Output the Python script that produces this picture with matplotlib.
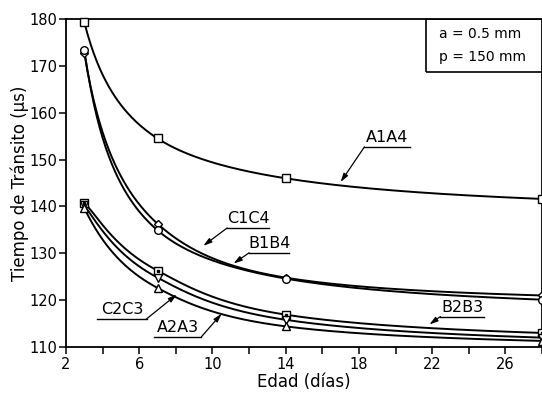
import numpy as np
import matplotlib.pyplot as plt
from matplotlib.patches import Rectangle

# Edad (dias) y tiempo de transito (us)
dias = [3, 7, 14, 28]
a1a4 = [179.3, 154.5, 146.0, 141.6]
c1c4 = [172.7, 136.3, 124.8, 121.0]
b1b4 = [173.3, 134.9, 124.6, 120.1]
b2b3 = [140.8, 126.3, 116.9, 113.0]
c2c3 = [140.2, 124.8, 115.8, 112.0]
a2a3 = [139.6, 122.6, 114.4, 111.3]


def pchip(xk, yk, xs):
    # monotone cubic (Fritsch-Carlson) used only to draw a smooth curve through the points
    xk = np.asarray(xk, float)
    yk = np.asarray(yk, float)
    h = np.diff(xk)
    d = np.diff(yk) / h
    n = len(xk)
    m = np.zeros(n)
    for k in range(1, n - 1):
        if d[k - 1] * d[k] > 0:
            w1 = 2 * h[k] + h[k - 1]
            w2 = h[k] + 2 * h[k - 1]
            m[k] = (w1 + w2) / (w1 / d[k - 1] + w2 / d[k])
    m[0] = ((2 * h[0] + h[1]) * d[0] - h[0] * d[1]) / (h[0] + h[1])
    if np.sign(m[0]) != np.sign(d[0]):
        m[0] = 0
    m[-1] = ((2 * h[-1] + h[-2]) * d[-1] - h[-1] * d[-2]) / (h[-1] + h[-2])
    if np.sign(m[-1]) != np.sign(d[-1]):
        m[-1] = 0
    idx = np.clip(np.searchsorted(xk, xs) - 1, 0, n - 2)
    t = (xs - xk[idx]) / h[idx]
    h00 = 2 * t**3 - 3 * t**2 + 1
    h10 = t**3 - 2 * t**2 + t
    h01 = -2 * t**3 + 3 * t**2
    h11 = t**3 - t**2
    return h00 * yk[idx] + h10 * h[idx] * m[idx] + h01 * yk[idx + 1] + h11 * h[idx] * m[idx + 1]


def smooth(x, y):
    # interpolate in 1/x, the curves look like a + b/x
    u = 1.0 / np.asarray(x, float)[::-1]
    yy = np.asarray(y, float)[::-1]
    xs = np.linspace(x[0], x[-1], 300)
    return xs, pchip(u, yy, 1.0 / xs)


plt.rcParams['font.family'] = 'DejaVu Sans'
plt.rcParams['font.size'] = 10

fig = plt.figure(figsize=(5.42, 3.94), dpi=100)
ax = fig.add_axes([0.1218, 0.1193, 0.8782, 0.8325])

series = [
    (a1a4, 's', False),
    (c1c4, 'D', False),
    (b1b4, 'o', False),
    (b2b3, 's', True),
    (c2c3, 'v', False),
    (a2a3, '^', False),
]
for vals, mk, dot in series:
    xs, ys = smooth(dias, vals)
    ax.plot(xs, ys, color='black', lw=1.4, zorder=2)
    ms = 4.5 if mk == 'D' else 5.5
    ax.plot(dias, vals, linestyle='none', marker=mk, ms=ms, mfc='white',
            mec='black', mew=1.0, zorder=3, clip_on=False)
    if dot:
        ax.plot(dias, vals, linestyle='none', marker='s', ms=1.6, color='black',
                zorder=4, clip_on=False)

# etiquetas subrayadas con flecha
labels = [
    ('A1A4', 18.3, 20.8, 152.7, 17.0, 145.2),
    ('C1C4', 10.8, 13.1, 135.4, 9.5, 131.6),
    ('B1B4', 12.0, 14.2, 130.1, 11.15, 127.8),
    ('C2C3', 3.7, 6.4, 116.0, 8.05, 121.2),
    ('A2A3', 6.8, 9.4, 112.2, 10.5, 117.1),
    ('B2B3', 22.45, 24.85, 116.5, 21.85, 114.8),
]
for txt, x0, x1, yu, xa, ya in labels:
    ax.plot([x0, x1], [yu, yu], color='black', lw=1.0)
    ax.text((x0 + x1) / 2, yu + 0.4, txt, ha='center', va='bottom', fontsize=11.5)
    # leader starts at the underline end that is nearest the curve
    xs0 = x0 if abs(xa - x0) < abs(xa - x1) else x1
    ax.annotate('', xy=(xa, ya), xytext=(xs0, yu),
                arrowprops=dict(arrowstyle='-|>,head_length=0.5,head_width=0.15',
                                color='black', lw=0.9, shrinkA=0, shrinkB=0))

ax.add_patch(Rectangle((21.65, 168.7), 7.0, 11.3, fill=False, ec='black', lw=1.2,
                       clip_on=True, zorder=1))
ax.text(22.4, 176.8, 'a = 0.5 mm', va='center', ha='left', fontsize=10)
ax.text(22.4, 171.9, 'p = 150 mm', va='center', ha='left', fontsize=10)

ax.set_xlim(2, 28)
ax.set_ylim(110, 180)
ax.set_xticks([2, 6, 10, 14, 18, 22, 26])
ax.set_xticks([4, 8, 12, 16, 20, 24, 28], minor=True)
ax.set_yticks(np.arange(110, 181, 10))
ax.tick_params(which='both', direction='out', length=5, width=1.1, labelsize=10.5)
ax.tick_params(axis='y', pad=1.5)
ax.tick_params(axis='x', pad=2)
for s in ax.spines.values():
    s.set_linewidth(1.3)

ax.set_xlabel('Edad (días)', fontsize=12, labelpad=1)
ax.set_ylabel('Tiempo de Tránsito (µs)', fontsize=12, labelpad=0)

fig.savefig('out.png', dpi=100)
